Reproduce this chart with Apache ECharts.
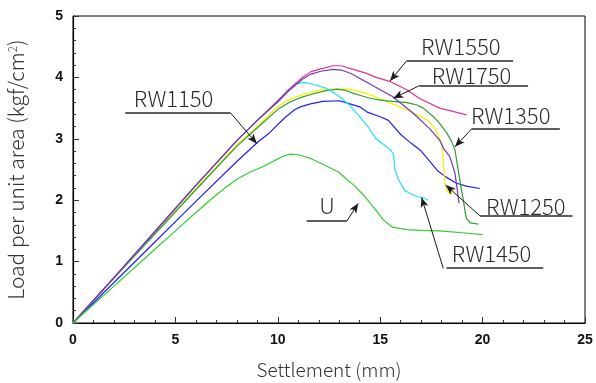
<!DOCTYPE html>
<html>
<head>
<meta charset="utf-8">
<script src="https://cdn.jsdelivr.net/npm/echarts@6/dist/echarts.min.js"></script>
<style>
  html, body { margin: 0; padding: 0; background: #fff; }
  #chart { width: 596px; height: 383px; }
</style>
</head>
<body>
<div id="chart"></div>
<script>
// Load–settlement curves, [settlement (mm), load (kgf/cm2)]
const RW1150 = [[0,0],[2,0.66],[4,1.32],[6,1.98],[8,2.63],[9,2.94],[9.6,3.1],[10.3,3.33],[10.8,3.47],[11.1,3.52],[11.6,3.57],[12.2,3.61],[13.0,3.62],[13.4,3.58],[14.0,3.52],[14.4,3.43],[15.0,3.36],[15.4,3.3],[16.0,3.07],[16.5,2.93],[17.0,2.8],[17.4,2.64],[17.8,2.48],[18.2,2.38],[18.7,2.28],[19.2,2.23],[19.87,2.19]];
const RW1250 = [[0,0],[2,0.73],[4,1.46],[6,2.19],[8,2.9],[9,3.2],[10,3.53],[10.6,3.65],[11.1,3.71],[11.7,3.76],[12.2,3.8],[12.8,3.81],[13.4,3.81],[13.9,3.78],[14.3,3.74],[14.8,3.68],[15.3,3.61],[15.8,3.54],[16.3,3.47],[16.8,3.39],[17.3,3.31],[17.6,3.2],[17.8,3.08],[18.0,2.93],[18.08,2.65],[18.12,2.45],[18.16,2.27],[18.3,2.13],[18.45,2.1],[18.57,2.16]];
const RW1350 = [[0,0],[2,0.73],[4,1.45],[6,2.17],[8,2.88],[9,3.18],[10,3.48],[10.6,3.6],[11.1,3.67],[11.7,3.73],[12.3,3.78],[12.9,3.81],[13.3,3.79],[13.7,3.74],[14.0,3.71],[14.5,3.66],[15.0,3.63],[15.6,3.61],[16.3,3.59],[16.8,3.55],[17.1,3.5],[17.6,3.36],[17.9,3.25],[18.24,3.1],[18.5,2.95],[18.65,2.82],[18.81,2.49],[18.95,2.2],[19.06,2.0],[19.15,1.8],[19.22,1.7],[19.4,1.63],[19.79,1.61]];
const RW1450 = [[0,0],[2,0.74],[4,1.49],[6,2.24],[8,2.97],[9,3.3],[10,3.62],[10.5,3.8],[10.9,3.9],[11.3,3.92],[11.8,3.88],[12.3,3.83],[12.6,3.78],[13.0,3.69],[13.4,3.58],[14.0,3.36],[14.4,3.2],[14.8,3.0],[15.2,2.9],[15.5,2.82],[15.65,2.75],[15.72,2.49],[15.9,2.33],[16.2,2.16],[16.5,2.1],[16.8,2.06],[17.1,2.04],[17.35,2.0]];
const RW1550 = [[0,0],[2,0.74],[4,1.49],[6,2.24],[8,2.97],[9,3.3],[10,3.62],[10.6,3.82],[11.2,4.0],[11.6,4.09],[12.1,4.14],[12.7,4.19],[13.1,4.19],[13.6,4.14],[14.3,4.07],[14.8,4.0],[15.5,3.93],[16.3,3.8],[16.9,3.66],[17.9,3.5],[18.5,3.45],[19.22,3.39]];
const RW1750 = [[0,0],[2,0.74],[4,1.49],[6,2.24],[8,2.97],[9,3.3],[10,3.6],[10.6,3.8],[11.2,3.97],[11.6,4.05],[12.1,4.1],[12.7,4.13],[13.1,4.12],[13.6,4.06],[14.3,3.93],[15.0,3.8],[15.6,3.69],[16.6,3.42],[17.4,3.17],[17.9,2.98],[18.1,2.84],[18.4,2.71],[18.65,2.44],[18.75,2.2],[18.85,1.95]];
const U = [[0,0],[2,0.6],[4,1.2],[5,1.5],[6,1.8],[6.9,2.06],[7.5,2.22],[8.0,2.34],[8.6,2.45],[9.3,2.55],[9.8,2.64],[10.3,2.72],[10.6,2.75],[11.0,2.74],[11.6,2.68],[12.3,2.57],[13.0,2.45],[13.4,2.33],[13.7,2.25],[14.2,2.08],[14.66,1.89],[15.15,1.68],[15.6,1.56],[16.3,1.52],[17.0,1.51],[17.9,1.5],[19.0,1.47],[20.0,1.44]];

const xTicks = [0, 5, 10, 15, 20, 25];
const yTicks = [0, 1, 2, 3, 4, 5];

// Callouts in data units: label centre, underline (x1, x2, y), leader start and arrow tip
const callouts = [
  { name: 'RW1150', text: [4.91, 3.65], line: [2.55, 7.67, 3.43], from: [7.67, 3.43], tip: [8.98, 2.92] },
  { name: 'RW1550', text: [18.93, 4.506], line: [16.29, 21.49, 4.27], from: [16.29, 4.27], tip: [15.48, 3.94] },
  { name: 'RW1750', text: [19.46, 4.03], line: [16.94, 22.22, 3.87], from: [16.94, 3.87], tip: [15.64, 3.66] },
  { name: 'RW1350', text: [21.37, 3.372], line: [19.46, 23.77, 3.16], from: [19.46, 3.16], tip: [18.65, 2.87] },
  { name: 'RW1250', text: [22.11, 1.896], line: [19.87, 24.39, 1.745], from: [19.87, 1.745], tip: [18.2, 2.246] },
  { name: 'RW1450', text: [20.44, 1.137], line: [18.24, 22.96, 0.904], from: [18.08, 0.89], tip: [17.02, 2.046] },
  { name: 'U', text: [12.4, 1.91], line: [11.41, 13.37, 1.66], from: [13.37, 1.66], tip: [13.93, 1.95] }
];

const curves = [
  { name: 'RW1150', data: RW1150, color: '#2222f0' },
  { name: 'RW1250', data: RW1250, color: '#f2f200' },
  { name: 'RW1350', data: RW1350, color: '#2f9f2f' },
  { name: 'RW1450', data: RW1450, color: '#22e2f2' },
  { name: 'RW1550', data: RW1550, color: '#e2348c' },
  { name: 'RW1750', data: RW1750, color: '#7038c4' },
  { name: 'U', data: U, color: '#33cc33' }
];

const labelFont = 'Noto Sans CJK KR';

const series = curves.map(c => ({
  name: c.name,
  type: 'line',
  data: c.data,
  showSymbol: false,
  smooth: false,
  lineStyle: { color: c.color, width: 1.2 },
  itemStyle: { color: c.color },
  z: 2
}));

// Underlines, leader arrows and their texts
const underlineData = callouts.map(c => [
  { coord: [c.line[0], c.line[2]], symbol: 'none' },
  { coord: [c.line[1], c.line[2]], symbol: 'none' }
]);
const arrowData = callouts.map(c => [
  { coord: c.from, symbol: 'none' },
  { coord: c.tip, symbol: 'arrow', symbolSize: [6, 10] }
]);

series.push({
  type: 'line',
  name: 'callouts',
  data: [],
  silent: true,
  z: 5,
  markLine: {
    silent: true,
    animation: false,
    label: { show: false },
    emphasis: { disabled: true },
    lineStyle: { color: '#5e5e5e', width: 2, type: 'solid' },
    data: underlineData
  }
});
series.push({
  type: 'line',
  name: 'arrows',
  data: [],
  silent: true,
  z: 6,
  markLine: {
    silent: true,
    animation: false,
    label: { show: false },
    emphasis: { disabled: true },
    lineStyle: { color: '#1a1a1a', width: 1, type: 'solid' },
    itemStyle: { color: '#111' },
    data: arrowData
  },
  markPoint: {
    silent: true,
    animation: false,
    symbol: 'circle',
    symbolSize: 0,
    label: {
      show: true,
      position: 'inside',
      formatter: '{b}',
      color: '#2a2a2a',
      fontFamily: labelFont,
      fontWeight: 300,
      fontSize: 22
    },
    data: callouts.map(c => ({ name: c.name, coord: c.text }))
  }
});

const chart = echarts.init(document.getElementById('chart'), null, { renderer: 'canvas' });
chart.setOption({
  animation: false,
  backgroundColor: '#ffffff',
  grid: {
    left: 73, right: 11, top: 16, bottom: 60,
    containLabel: false, outerBoundsMode: 'none',
    show: true, borderColor: '#000', borderWidth: 1, backgroundColor: 'transparent'
  },
  xAxis: {
    type: 'value',
    min: xTicks[0],
    max: xTicks[xTicks.length - 1],
    interval: 5,
    name: 'Settlement (mm)',
    nameLocation: 'middle',
    nameGap: 37,
    nameTextStyle: { fontFamily: labelFont, fontWeight: 300, fontSize: 19, color: '#333' },
    axisLine: { show: true, lineStyle: { color: '#000', width: 1.2 } },
    axisTick: { show: true, inside: true, length: 6, lineStyle: { color: '#333' } },
    minorTick: { show: true, splitNumber: 5, length: 3, lineStyle: { color: '#333' } },
    splitLine: { show: false },
    axisLabel: { margin: 10, fontFamily: 'Liberation Sans', fontWeight: 'bold', fontSize: 14, color: '#111' }
  },
  yAxis: {
    type: 'value',
    min: yTicks[0],
    max: yTicks[yTicks.length - 1],
    interval: 1,
    name: 'Load per unit area (kgf/cm{sup|2})',
    nameLocation: 'middle',
    nameGap: 46,
    nameRotate: 90,
    nameTextStyle: {
      fontFamily: labelFont, fontWeight: 300, fontSize: 21, color: '#333',
      rich: { sup: { fontFamily: labelFont, fontWeight: 300, fontSize: 12, lineHeight: 12, color: '#333', verticalAlign: 'top', padding: [0, 0, 16, 0] } }
    },
    axisLine: { show: true, lineStyle: { color: '#000', width: 1.2 } },
    axisTick: { show: true, inside: true, length: 6, lineStyle: { color: '#333' } },
    minorTick: { show: true, splitNumber: 5, length: 3, lineStyle: { color: '#333' } },
    splitLine: { show: false },
    axisLabel: { margin: 10, fontFamily: 'Liberation Sans', fontWeight: 'bold', fontSize: 14, color: '#111' }
  },
  series: series
});
</script>
</body>
</html>
